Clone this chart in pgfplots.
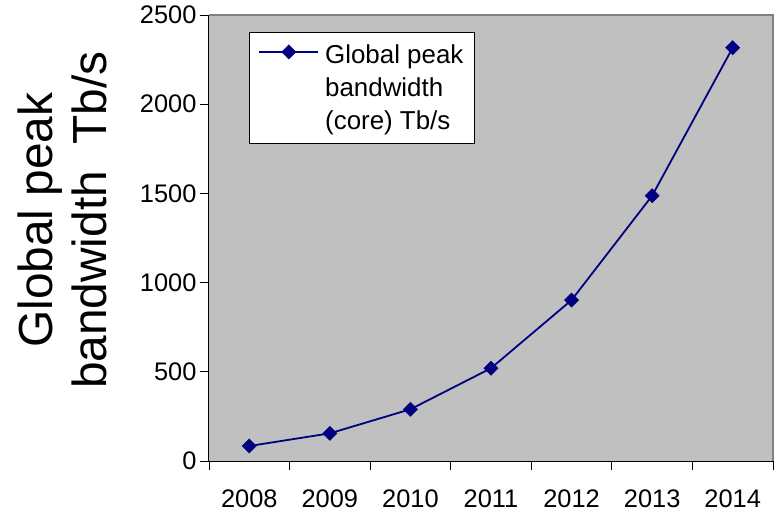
\documentclass[border=0pt]{standalone}
\usepackage{fontspec}
\setmainfont{Liberation Sans}
\usepackage{pgfplots}
\pgfplotsset{compat=1.18}
\definecolor{plotgray}{RGB}{192,192,192}
\definecolor{navyline}{RGB}{0,0,128}
\definecolor{framegray}{RGB}{128,128,128}

\begin{document}
\begin{tikzpicture}
\begin{axis}[
    scale only axis,
    width=564bp, height=446bp,
    xmin=-0.5, xmax=6.5,
    ymin=0, ymax=2500,
    clip=false,
    axis x line*=bottom, axis y line*=left,
    axis line style={black, line width=1bp, -},
    axis background/.style={fill=plotgray},
    xtick={0,...,6},
    xticklabels={2008,2009,2010,2011,2012,2013,2014},
    major x tick style={draw=none},
    minor xtick={-0.5,0.5,...,6.5},
    ytick={0,500,...,2500},
    tick align=outside,
    major tick length=9bp, minor tick length=9bp,
    tick style={black, line width=0.8bp},
    /pgf/number format/assume math mode=true,
    /pgf/number format/1000 sep={},
    ticklabel style={font=\fontsize{25.5}{30}\selectfont},
    xticklabel style={yshift=-16.5bp},
    ylabel={Global peak\\bandwidth\ \ Tb/s},
    ylabel style={align=center, font=\fontsize{48}{54}\selectfont, at={(ticklabel cs:0.54,26bp)}},
    legend style={at={(rel axis cs:0.0709,0.9619)}, anchor=north west,
        draw=black, fill=white, line width=0.8bp,
        font=\fontsize{26}{33.5}\selectfont,
        inner xsep=9bp, inner ysep=10bp, column sep=4bp,
        nodes={align=left, inner sep=2bp}},
    legend cell align=left,
    legend image code/.code={
        \draw[#1] (0bp,36bp) -- (59bp,36bp);
        \draw[#1] plot coordinates {(29.5bp,36bp)};
    },
]

\addplot[color=navyline, line width=1.8bp, mark=square*,
    mark size=5bp, mark options={rotate=45, fill=navyline, line width=0.5bp}]
    coordinates {
    (0,84)(1,155)(2,290)(3,520)(4,902)(5,1487)(6,2317)
};
\addlegendentry{Global peak\\bandwidth\\(core) Tb/s}

\draw[framegray, line width=1.5bp] (rel axis cs:0,1) -- (rel axis cs:1,1) -- (rel axis cs:1,0);
\path (rel axis cs:0,0) ++(-209bp,-59bp);
\path (rel axis cs:1,1) ++(6bp,15bp);
\end{axis}
\end{tikzpicture}
\end{document}
